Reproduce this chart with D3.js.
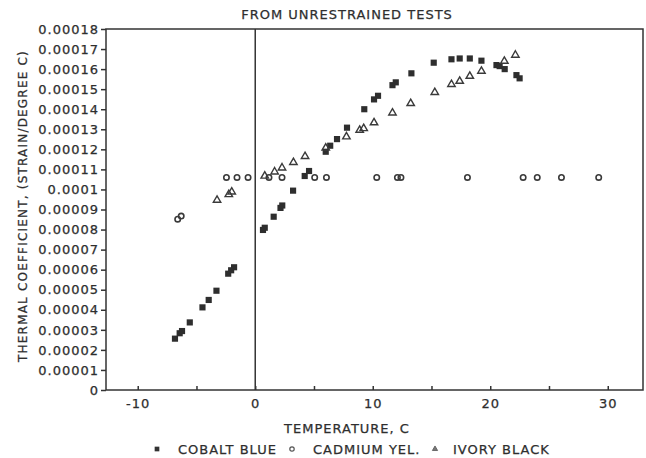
<!DOCTYPE html>
<html>
<head>
<meta charset="utf-8">
<script src="https://cdn.jsdelivr.net/npm/d3@7"></script>
<style>
  body { margin: 0; background: #fff; }
  svg text { font-family: "DejaVu Sans", sans-serif; fill: #2e2e2e; stroke: #2e2e2e; stroke-width: 0.25px; }
</style>
</head>
<body>
<div id="chart"></div>
<script>
// values (coefficient in strain/degree C)
let cobaltTemp = [-6.83, -6.43, -6.23, -5.57, -4.49, -3.96, -3.30, -2.30, -2.05, -1.80,
  0.66, 0.81, 1.57, 2.15, 2.30, 3.22, 4.21, 4.58, 6.00, 6.38, 6.96, 7.81, 9.28, 10.11,
  10.45, 11.68, 11.96, 13.29, 15.19, 16.70, 17.40, 18.26, 19.25, 20.53, 20.80, 21.23, 22.23, 22.50]
let cobaltCoef = [0.0000256, 0.0000283, 0.0000294, 0.0000337, 0.0000412, 0.0000449, 0.0000495,
  0.0000580, 0.0000597, 0.0000612, 0.0000798, 0.0000809, 0.0000864, 0.0000908, 0.0000920,
  0.0000994, 0.0001067, 0.0001092, 0.0001188, 0.0001218, 0.0001251, 0.0001308, 0.0001400,
  0.0001449, 0.0001467, 0.0001520, 0.0001534, 0.0001579, 0.0001632, 0.0001649, 0.0001653,
  0.0001653, 0.0001642, 0.0001620, 0.0001615, 0.0001600, 0.0001570, 0.0001554]

let cadmiumTemp = [-6.6, -6.3, -2.45, -1.55, -0.61, 1.17, 2.28, 5.06, 6.06, 10.34, 12.1, 12.4,
  18.06, 22.8, 24.0, 26.06, 29.23]
let cadmiumCoef = [0.0000852, 0.0000867, 0.000106, 0.000106, 0.000106, 0.000106, 0.000106,
  0.000106, 0.000106, 0.000106, 0.000106, 0.000106, 0.000106, 0.000106, 0.000106, 0.000106, 0.000106]

let ivoryTemp = [-3.25, -2.25, -2.0, 0.81, 1.65, 2.28, 3.25, 4.24, 6.0, 7.76, 8.89, 9.23, 10.11,
  11.68, 13.23, 15.28, 16.70, 17.40, 18.26, 19.25, 21.2, 22.14]
let ivoryCoef = [0.0000947, 0.0000975, 0.0000988, 0.0001067, 0.0001088, 0.0001108, 0.0001135,
  0.0001165, 0.0001207, 0.0001263, 0.0001296, 0.0001304, 0.0001333, 0.0001382, 0.0001429,
  0.0001484, 0.0001524, 0.0001540, 0.0001565, 0.0001590, 0.0001640, 0.0001670]

let xTicks = [-10, -5, 0, 5, 10, 15, 20, 25, 30]
let xTickLabels = ["-10", "", "0", "", "10", "", "20", "", "30"]
let yTicks = d3.range(0, 19).map(i => i / 100000)
let yTickLabels = ["0", "0.00001", "0.00002", "0.00003", "0.00004", "0.00005", "0.00006",
  "0.00007", "0.00008", "0.00009", "0.0001", "0.00011", "0.00012", "0.00013", "0.00014",
  "0.00015", "0.00016", "0.00017", "0.00018"]

let titleText = "FROM UNRESTRAINED TESTS"
let xTitle = "TEMPERATURE, C"
let yTitle = "THERMAL COEFFICIENT, (STRAIN/DEGREE C)"
let legendNames = ["COBALT BLUE", "CADMIUM YEL.", "IVORY BLACK"]

let margin = { top: 29, right: 3, bottom: 68, left: 106 },
  width = 646 - margin.left - margin.right,
  height = 458 - margin.top - margin.bottom;

let ink = "#333"

let svg = d3.select("#chart")
  .append("svg")
  .attr("width", 646)
  .attr("height", 458)

let g = svg.append("g")
  .attr("transform", "translate(" + margin.left + "," + margin.top + ")")

let xAx = d3.scaleLinear().domain([-12.7, 33]).range([0, width])
let yAx = d3.scaleLinear().domain([0, 0.00018]).range([height, 0])

// frame
g.append("rect")
  .attr("width", width).attr("height", height)
  .attr("fill", "none").attr("stroke", ink).attr("stroke-width", 1.5)

// vertical line at zero
g.append("line")
  .attr("x1", xAx(0)).attr("x2", xAx(0))
  .attr("y1", 0).attr("y2", height)
  .attr("stroke", ink).attr("stroke-width", 1.5)

// y axis
let yG = g.append("g")
  .call(d3.axisLeft(yAx).tickValues(yTicks).tickSize(5).tickSizeOuter(0)
    .tickFormat((d, i) => yTickLabels[i]))
yG.select(".domain").remove()
yG.selectAll("line").attr("stroke", ink).attr("stroke-width", 1.5)
yG.selectAll("text")
  .attr("x", -7)
  .style("font-size", "13px")
  .style("letter-spacing", "1px")

// x axis, ticks point inward
let xG = g.append("g")
  .attr("transform", "translate(0," + height + ")")
  .call(d3.axisBottom(xAx).tickValues(xTicks).tickSize(-4).tickSizeOuter(0)
    .tickFormat((d, i) => xTickLabels[i]))
xG.select(".domain").remove()
xG.selectAll("line").attr("stroke", ink).attr("stroke-width", 1.5)
xG.selectAll("text")
  .attr("y", 18).attr("dy", 0)
  .style("font-size", "13px")
  .style("letter-spacing", "1px")

// titles
svg.append("text")
  .attr("x", 347).attr("y", 19)
  .attr("text-anchor", "middle")
  .style("font-size", "13px")
  .style("letter-spacing", "1px")
  .text(titleText)

svg.append("text")
  .attr("x", 347).attr("y", 433)
  .attr("text-anchor", "middle")
  .style("font-size", "13px")
  .style("letter-spacing", "1px")
  .text(xTitle)

svg.append("text")
  .attr("transform", "translate(27,206) rotate(-90)")
  .attr("text-anchor", "middle")
  .style("font-size", "12px")
  .style("letter-spacing", "1.2px")
  .text(yTitle)

// markers
let square = d3.symbol().type(d3.symbolSquare).size(38)
let triangle = d3.symbol().type(d3.symbolTriangle).size(24)

g.selectAll(".cobalt")
  .data(cobaltTemp.map((t, i) => [t, cobaltCoef[i]]))
  .enter().append("path")
  .attr("class", "cobalt")
  .attr("d", square)
  .attr("transform", d => "translate(" + xAx(d[0]) + "," + yAx(d[1]) + ")")
  .attr("fill", "#2e2e2e")

g.selectAll(".cadmium")
  .data(cadmiumTemp.map((t, i) => [t, cadmiumCoef[i]]))
  .enter().append("circle")
  .attr("class", "cadmium")
  .attr("cx", d => xAx(d[0]))
  .attr("cy", d => yAx(d[1]))
  .attr("r", 2.7)
  .attr("fill", "none")
  .attr("stroke", "#3a3a3a")
  .attr("stroke-width", 1.6)

g.selectAll(".ivory")
  .data(ivoryTemp.map((t, i) => [t, ivoryCoef[i]]))
  .enter().append("path")
  .attr("class", "ivory")
  .attr("d", triangle)
  .attr("transform", d => "translate(" + xAx(d[0]) + "," + yAx(d[1]) + ")")
  .attr("fill", "none")
  .attr("stroke", "#3a3a3a")
  .attr("stroke-width", 1.4)

// legend
let legY = 449
svg.append("path")
  .attr("d", d3.symbol().type(d3.symbolSquare).size(22))
  .attr("transform", "translate(157," + legY + ")")
  .attr("fill", "#333")
svg.append("text").attr("x", 178).attr("y", legY + 4.5)
  .style("font-size", "13px").style("letter-spacing", "1px").text(legendNames[0])
svg.append("circle")
  .attr("cx", 292).attr("cy", legY).attr("r", 2.2)
  .attr("fill", "none").attr("stroke", "#555").attr("stroke-width", 1.2)
svg.append("text").attr("x", 313).attr("y", legY + 4.5)
  .style("font-size", "13px").style("letter-spacing", "1px").text(legendNames[1])
svg.append("path")
  .attr("d", d3.symbol().type(d3.symbolTriangle).size(12))
  .attr("transform", "translate(435," + legY + ")")
  .attr("fill", "#777").attr("stroke", "#555").attr("stroke-width", 0.8)
svg.append("text").attr("x", 453).attr("y", legY + 4.5)
  .style("font-size", "13px").style("letter-spacing", "1px").text(legendNames[2])
</script>
</body>
</html>
